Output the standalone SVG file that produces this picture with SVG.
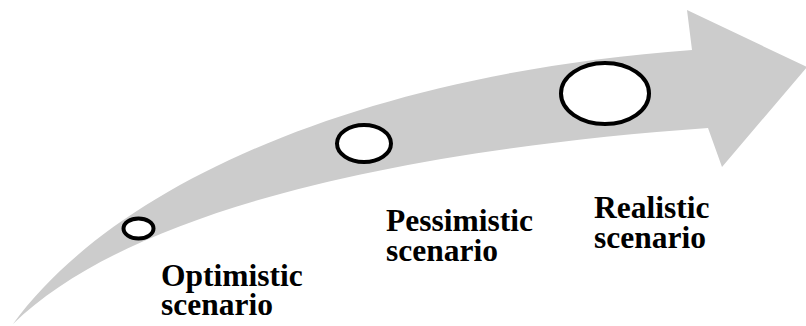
<svg xmlns="http://www.w3.org/2000/svg" width="806" height="326" viewBox="0 0 806 326">
  <style>
    .arrow { fill: #cccccc; stroke: none; }
    .node ellipse { fill: #ffffff; stroke: #000000; stroke-width: 4; }
    .label { font-family: "Liberation Serif", "Times New Roman", serif; font-weight: bold; font-size: 31.5px; fill: #000000; }
  </style>
  <g id="connectors">
    <path class="arrow" d="M13,324 C110,190 350,75 692,50 L687,10 L807,67 L722,167 L708,128 C400,150 130,210 13,324 Z"/>
  </g>
  <g id="node-optimistic" class="node">
    <ellipse cx="138.5" cy="228.5" rx="15" ry="10"/>
    <text class="label" x="161" y="286">Optimistic</text>
    <text class="label" x="161" y="315">scenario</text>
  </g>
  <g id="node-pessimistic" class="node">
    <ellipse cx="364" cy="143.5" rx="27" ry="18.5"/>
    <text class="label" x="386" y="231">Pessimistic</text>
    <text class="label" x="386" y="261">scenario</text>
  </g>
  <g id="node-realistic" class="node">
    <ellipse cx="605" cy="93.5" rx="44" ry="30.5"/>
    <text class="label" x="594" y="218">Realistic</text>
    <text class="label" x="594" y="248">scenario</text>
  </g>
</svg>
